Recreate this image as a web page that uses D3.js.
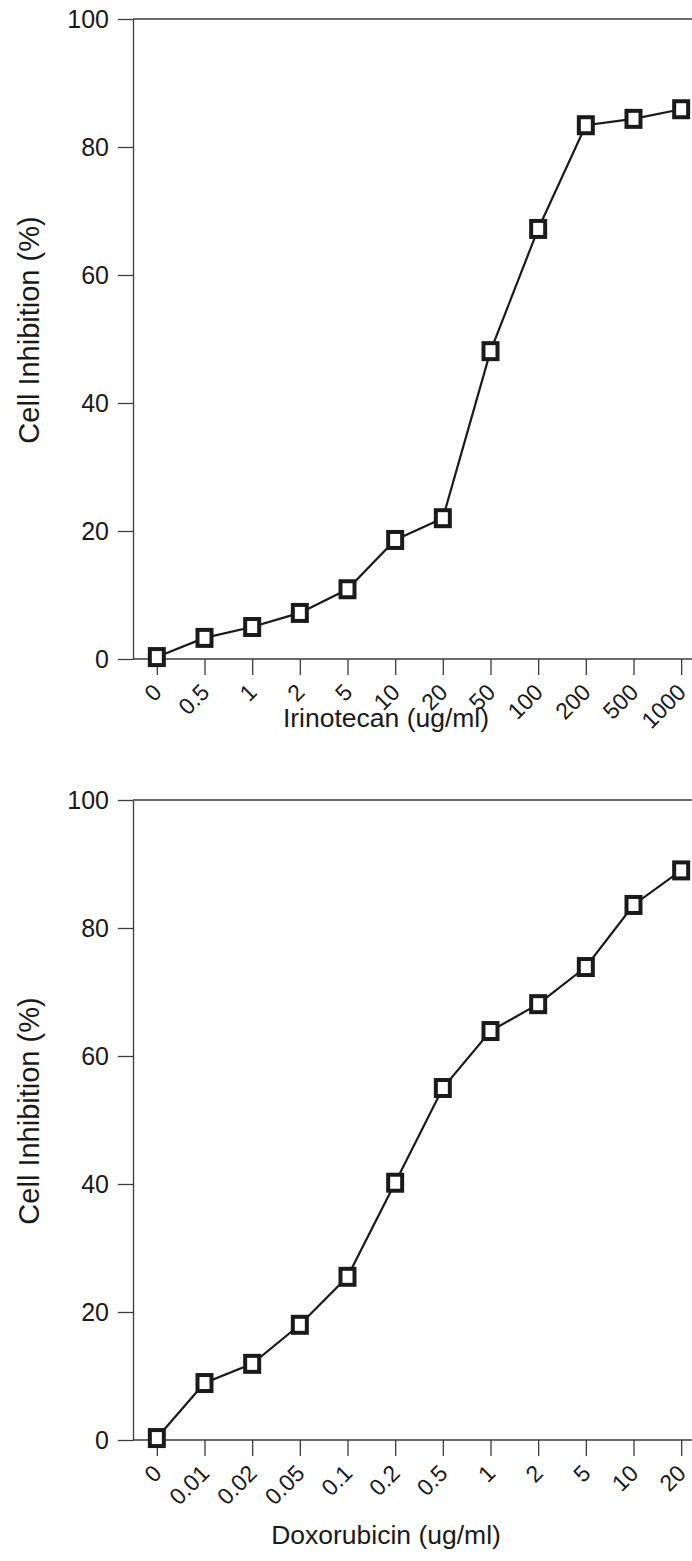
<!DOCTYPE html>
<html>
<head>
<meta charset="utf-8">
<script src="https://cdn.jsdelivr.net/npm/d3@7/dist/d3.min.js"></script>
<style>
  html, body { margin: 0; padding: 0; background: #fff; }
  svg { display: block; font-family: "Liberation Sans", Arial, sans-serif; }
</style>
</head>
<body>
<svg id="chart" width="692" height="1561"></svg>
<script>
// Dose-response data: cell inhibition (%) at each drug concentration
const irinotecanDoses = ["0", "0.5", "1", "2", "5", "10", "20", "50", "100", "200", "500", "1000"];
const irinotecanInhibition = [0.3, 3.3, 5.0, 7.2, 10.9, 18.6, 22.0, 48.1, 67.2, 83.4, 84.4, 85.9];

const doxorubicinDoses = ["0", "0.01", "0.02", "0.05", "0.1", "0.2", "0.5", "1", "2", "5", "10", "20"];
const doxorubicinInhibition = [0.3, 8.9, 11.9, 18.0, 25.5, 40.2, 55.0, 63.9, 68.1, 73.9, 83.6, 89.0];

const yTicks = [0, 20, 40, 60, 80, 100];
const yTitle = "Cell Inhibition (%)";

const svg = d3.select("#chart");
const W = 692;
const FONT = '"Liberation Sans", Arial, sans-serif';

function panel(top, doses, values, xTitle, titleOffset) {
  const left = 133;
  const plotH = 640;
  const bottom = top + plotH;

  const x = d3.scalePoint().domain(doses).range([left, left + 572]).padding(0.5);
  const y = d3.scaleLinear().domain([0, 100]).range([bottom, top]);

  const g = svg.append("g");
  const axisColor = "#3c3c3c";

  // top frame line
  g.append("line")
    .attr("x1", left).attr("x2", W)
    .attr("y1", top).attr("y2", top)
    .attr("stroke", axisColor).attr("stroke-width", 1.3);

  // y axis
  const yAxis = g.append("g")
    .attr("transform", `translate(${left},0)`)
    .call(d3.axisLeft(y).tickValues(yTicks).tickSize(15).tickPadding(9).tickSizeOuter(0));
  yAxis.attr("font-size", null).attr("font-family", null);
  yAxis.select(".domain").attr("stroke", axisColor).attr("stroke-width", 1.3);
  yAxis.selectAll(".tick line").attr("stroke", axisColor).attr("stroke-width", 1.3);
  yAxis.selectAll(".tick text")
    .attr("fill", "#1a1a1a")
    .attr("font-size", 25)
    .attr("font-family", FONT);

  // x axis
  const xAxis = g.append("g")
    .attr("transform", `translate(0,${bottom})`)
    .call(d3.axisBottom(x).tickSize(16).tickSizeOuter(0));
  xAxis.attr("font-size", null).attr("font-family", null);
  xAxis.select(".domain").remove();
  g.append("line")
    .attr("x1", left).attr("x2", W)
    .attr("y1", bottom).attr("y2", bottom)
    .attr("stroke", axisColor).attr("stroke-width", 1.3);
  xAxis.selectAll(".tick line").attr("stroke", axisColor).attr("stroke-width", 1.3);
  xAxis.selectAll(".tick text")
    .attr("fill", "#1a1a1a")
    .attr("text-anchor", "end")
    .attr("x", 0).attr("y", 0).attr("dy", "0.35em")
    .attr("transform", "translate(0,29) rotate(-45)")
    .attr("font-size", 23)
    .attr("font-family", FONT);

  // axis titles
  g.append("text")
    .attr("x", 386).attr("y", bottom + titleOffset)
    .attr("dy", "0.35em")
    .attr("text-anchor", "middle")
    .attr("fill", "#1a1a1a")
    .attr("font-size", 26.5)
    .text(xTitle);

  g.append("text")
    .attr("transform", `translate(29,${top + plotH / 2 - 9}) rotate(-90)`)
    .attr("dy", "0.35em")
    .attr("text-anchor", "middle")
    .attr("fill", "#1a1a1a")
    .attr("font-size", 29)
    .text(yTitle);

  // connecting line
  const pts = doses.map((d, i) => ({ dose: d, v: values[i] }));
  g.append("path")
    .datum(pts)
    .attr("fill", "none")
    .attr("stroke", "#1a1a1a")
    .attr("stroke-width", 2.2)
    .attr("d", d3.line().x(d => x(d.dose)).y(d => y(d.v)));

  // square markers
  const mw = 14, mh = 16;
  g.selectAll("rect.marker")
    .data(pts)
    .join("rect")
    .attr("class", "marker")
    .attr("x", d => x(d.dose) - mw / 2)
    .attr("y", d => y(d.v) - mh / 2)
    .attr("width", mw)
    .attr("height", mh)
    .attr("fill", "#fff")
    .attr("stroke", "#1a1a1a")
    .attr("stroke-width", 4);
}

panel(19, irinotecanDoses, irinotecanInhibition, "Irinotecan (ug/ml)", 59);
panel(800, doxorubicinDoses, doxorubicinInhibition, "Doxorubicin (ug/ml)", 95);
</script>
</body>
</html>
